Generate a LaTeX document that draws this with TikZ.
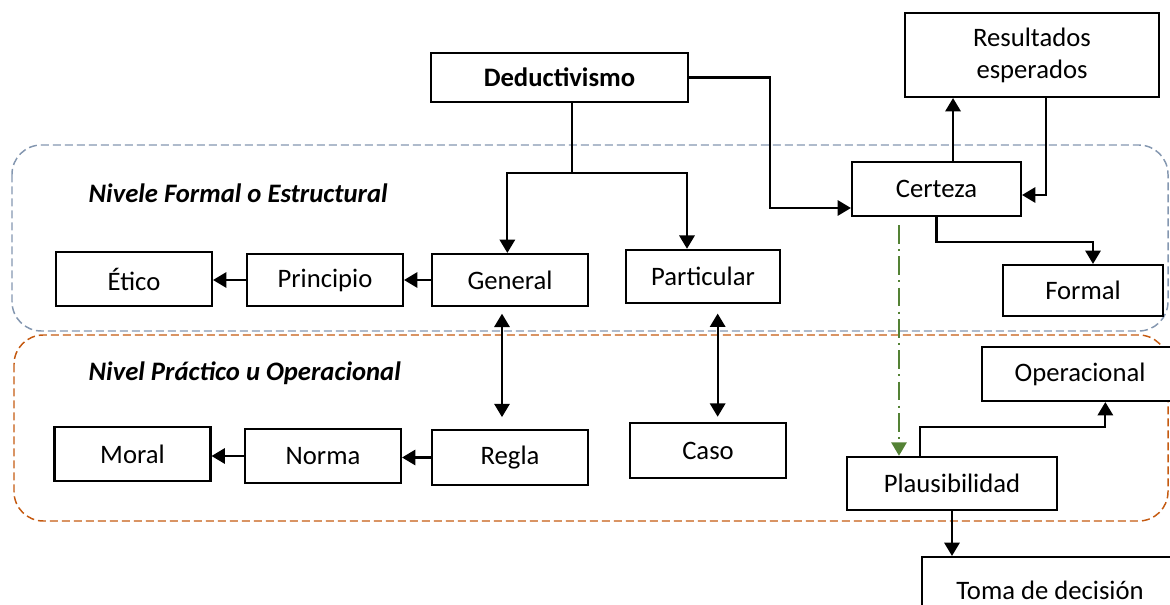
\documentclass[tikz,border=0pt]{standalone}
\usepackage{fontspec}
\setmainfont{Carlito}
\usetikzlibrary{arrows.meta}
\definecolor{zonablue}{RGB}{132,151,176}
\definecolor{zonaorange}{RGB}{197,90,17}
\definecolor{linkgreen}{RGB}{84,130,53}

\tikzset{
  box/.style={draw, fill=white, line width=1.6pt, inner sep=2pt, minimum width=117pt,
    minimum height=40pt, align=center, font=\fontsize{20}{24}\selectfont},
  link/.style={line width=1.6pt, -{Triangle[width=11.5pt,length=10pt]}},
  twoway/.style={line width=1.6pt, {Triangle[width=11.5pt,length=10pt]}-{Triangle[width=11.5pt,length=10pt]}},
  zone/.style={line width=1.1pt, rounded corners=22pt, dash pattern=on 6pt off 3pt},
  zonelabel/.style={anchor=west, font=\fontsize{20}{24}\selectfont\bfseries\itshape}
}

\begin{document}
\begin{tikzpicture}[x=0.75pt,y=-0.75pt]
\useasboundingbox (0,0) rectangle (1170,605);
\clip (0,0) rectangle (1170,605);

% niveles
\draw[zone,draw=zonablue] (12,145) rectangle (1168,331);
\draw[zone,draw=zonaorange] (14,335) rectangle (1168,521);
\node[zonelabel] (formlbl) at (84,193) {Nivele Formal o Estructural};
\node[zonelabel] (praclbl) at (84,373) {Nivel Práctico u Operacional};

% cajas
\node[box,minimum width=192.75pt,minimum height=36.75pt,font=\fontsize{20}{24}\selectfont\bfseries] (deduct) at (559.5,77.5) {Deductivismo};
\node[box,minimum width=190.5pt,minimum height=63pt] (result) at (1032,55) {Resultados\\esperados};
\node[box,minimum width=126.75pt,minimum height=40.5pt] (certeza) at (936.5,189) {Certeza};
\node[box,minimum width=120pt,minimum height=38.25pt] (formal) at (1083,290.5) {Formal};
\node[box] (etico) at (134,279) {Ético};
\node[box,minimum height=39pt] (principio) at (325,280) {Principio};
\node[box,minimum height=39pt] (general) at (510,280) {General};
\node[box,minimum width=115.5pt] (particular) at (703,276.5) {Particular};
\node[box] (moral) at (132.5,454) {Moral};
\node[box] (norma) at (323,456) {Norma};
\node[box,minimum height=41pt] (regla) at (510,457.5) {Regla};
\node[box,minimum height=41pt] (caso) at (708,450.5) {Caso};
\node[box,minimum width=157.5pt] (plaus) at (952,483.5) {Plausibilidad};
\node[box,minimum width=147pt,minimum height=40.5pt] (operac) at (1080,374) {Operacional};
\node[box,minimum width=192pt,minimum height=49.5pt] (toma) at (1050,590) {Toma de decisión};

% conectores
\coordinate (split) at (572,173);
\draw[line width=1.6pt] (deduct.south -| split) -- (split);
\draw[link] (split) -| ([xshift=-2pt]general.north);
\draw[link] (split) -| ([xshift=-12pt]particular.north);
\coordinate (bend) at (770,208);
\draw[link] (deduct.east) -| (bend) -- (certeza.west |- bend);
\draw[link] ([xshift=12.4pt]certeza.north) -- ([xshift=12.4pt]certeza.north |- result.south);
\draw[link] ([xshift=10.5pt]result.south) |- ([yshift=-4.5pt]certeza.east);
\draw[link] (certeza.south) -- ++(0,25) -| ([xshift=7.5pt]formal.north);
\draw[link] (general.west) -- (principio.east);
\draw[link] (principio.west) -- (principio.west -| etico.east);
\draw[link] (regla.west) -- (regla.west -| norma.east);
\draw[link] (norma.west) -- (norma.west -| moral.east);
\draw[twoway,shorten <=5pt,shorten >=9pt] ([xshift=-6pt]general.south) -- ([xshift=-6pt]general.south |- regla.north);
\draw[twoway,shorten <=7pt,shorten >=4pt] ([xshift=11pt]particular.south) -- ([xshift=11pt]particular.south |- caso.north);
\draw[link,draw=linkgreen,-{Triangle[width=11.5pt,length=10pt,fill=linkgreen]},dash pattern=on 14pt off 4pt on 1.5pt off 4pt,line width=1.1pt,shorten <=6pt] ([xshift=-39.75pt]plaus.north |- certeza.south) -- ([xshift=-39.75pt]plaus.north);
\draw[link] ([xshift=-24pt]plaus.north) -- ++(0,-29) -| ([xshift=19pt]operac.south);
\draw[link] (plaus.south) -- (plaus.south |- toma.north);
\end{tikzpicture}
\end{document}
